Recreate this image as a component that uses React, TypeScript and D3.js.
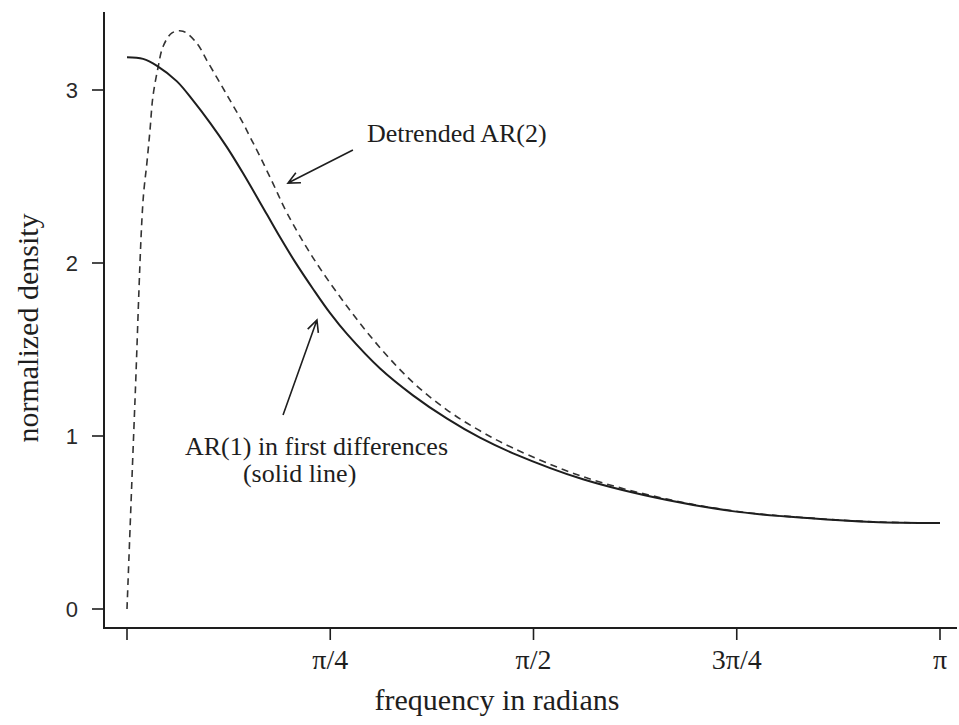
import React from "react";
import * as d3 from "d3";

// Frequencies in radians, normalized spectral densities.
const solidFreq = [0, 0.062, 0.116, 0.193, 0.255, 0.321, 0.386, 0.448, 0.541, 0.591, 0.65, 0.719, 0.785, 0.85, 0.978, 1.105, 1.237, 1.364, 1.492, 1.762, 2.087, 2.369, 2.628, 2.883, 3.1416];
const solidDensity = [3.19, 3.18, 3.14, 3.05, 2.94, 2.81, 2.67, 2.52, 2.28, 2.15, 2.005, 1.85, 1.71, 1.59, 1.39, 1.235, 1.1, 0.99, 0.9, 0.75, 0.63, 0.56, 0.526, 0.503, 0.497];

const dashedFreq = [0, 0.031, 0.062, 0.077, 0.089, 0.1, 0.12, 0.139, 0.174, 0.216, 0.27, 0.309, 0.348, 0.379, 0.41, 0.448, 0.475, 0.506, 0.564, 0.618, 0.719, 0.85, 0.978, 1.105, 1.237, 1.364, 1.492, 1.762, 2.087, 2.369, 2.628, 2.883, 3.1416];
const dashedDensity = [0, 1.21, 2.36, 2.58, 2.77, 2.96, 3.13, 3.25, 3.33, 3.34, 3.27, 3.17, 3.07, 2.99, 2.91, 2.81, 2.73, 2.64, 2.46, 2.29, 2.03, 1.75, 1.51, 1.31, 1.15, 1.03, 0.93, 0.765, 0.635, 0.562, 0.527, 0.504, 0.497];

const xTickValues = [0, Math.PI / 4, Math.PI / 2, (3 * Math.PI) / 4, Math.PI];
const xTickLabels = ["", "π/4", "π/2", "3π/4", "π"];
const yTickValues = [0, 1, 2, 3];

// Annotation labels and arrows, in data units (frequency, density).
const labels = [
  { text: "Detrended AR(2)", f: 0.927, d: 2.699 },
  { text: "AR(1) in first differences", f: 0.224, d: 0.89 },
  { text: "(solid line)", f: 0.448, d: 0.734 },
];
const arrows = [
  { f0: 0.873, d0: 2.653, f1: 0.622, d1: 2.462 },
  { f0: 0.603, d0: 1.121, f1: 0.734, d1: 1.671 },
];

export default function App() {
  const W = 959;
  const H = 725;
  const x = d3.scaleLinear().domain([0, Math.PI]).range([127, 940]);
  const y = d3.scaleLinear().domain([0, 3]).range([609, 90]);
  const axisX = 104;
  const axisY = 628;
  const axisTop = 12;
  const axisRight = 957;

  const line = d3
    .line<[number, number]>()
    .x((p) => x(p[0]))
    .y((p) => y(p[1]))
    .curve(d3.curveCatmullRom.alpha(0.5));

  const solidPath = line(solidFreq.map((f, i) => [f, solidDensity[i]]) as [number, number][]) || "";
  const dashedPath = line(dashedFreq.map((f, i) => [f, dashedDensity[i]]) as [number, number][]) || "";

  const serif = "'Liberation Serif', 'Times New Roman', serif";
  const sans = "'Liberation Sans', Arial, sans-serif";
  const ink = "#1e1e1e";

  const arrowHead = (a: { f0: number; d0: number; f1: number; d1: number }) => {
    const x0 = x(a.f0), y0 = y(a.d0), x1 = x(a.f1), y1 = y(a.d1);
    const ang = Math.atan2(y1 - y0, x1 - x0);
    const len = 13;
    const spread = Math.PI / 7;
    const p1 = [x1 - len * Math.cos(ang - spread), y1 - len * Math.sin(ang - spread)];
    const p2 = [x1 - len * Math.cos(ang + spread), y1 - len * Math.sin(ang + spread)];
    return `M${x0},${y0}L${x1},${y1}M${p1[0]},${p1[1]}L${x1},${y1}L${p2[0]},${p2[1]}`;
  };

  return (
    <svg
      width={W}
      height={H}
      style={{ position: "absolute", left: 0, top: 0, background: "#fff" }}
    >
      <rect x={0} y={0} width={W} height={H} fill="#fff" />
      {/* axes */}
      <line x1={axisX} y1={axisTop} x2={axisX} y2={axisY} stroke={ink} strokeWidth={2} />
      <line x1={axisX - 1} y1={axisY} x2={axisRight} y2={axisY} stroke={ink} strokeWidth={2} />
      {yTickValues.map((v) => (
        <g key={`y${v}`}>
          <line x1={axisX - 12} x2={axisX} y1={y(v)} y2={y(v)} stroke={ink} strokeWidth={1.6} />
          <text
            x={78}
            y={y(v)}
            dy="0.36em"
            textAnchor="end"
            fontFamily={sans}
            fontSize={22}
            fill="#2a2a2a"
          >
            {v}
          </text>
        </g>
      ))}
      {xTickValues.map((v, i) => (
        <g key={`x${i}`}>
          <line x1={x(v)} x2={x(v)} y1={axisY} y2={axisY + 12} stroke={ink} strokeWidth={1.6} />
          <text
            x={x(v)}
            y={669}
            textAnchor="middle"
            fontFamily={serif}
            fontSize={28}
            fill={ink}
          >
            {xTickLabels[i]}
          </text>
        </g>
      ))}
      <text x={497} y={710} textAnchor="middle" fontFamily={serif} fontSize={30} fill={ink}>
        frequency in radians
      </text>
      <text
        transform="translate(38,328) rotate(-90)"
        textAnchor="middle"
        fontFamily={serif}
        fontSize={30}
        fill={ink}
      >
        normalized density
      </text>

      {/* spectral densities */}
      <path d={dashedPath} fill="none" stroke="#333" strokeWidth={1.6} strokeDasharray="7,5" />
      <path d={solidPath} fill="none" stroke={ink} strokeWidth={2} />

      {/* annotations */}
      {arrows.map((a, i) => (
        <path key={`a${i}`} d={arrowHead(a)} fill="none" stroke={ink} strokeWidth={1.6} />
      ))}
      {labels.map((l, i) => (
        <text key={`l${i}`} x={x(l.f)} y={y(l.d)} fontFamily={serif} fontSize={26} fill={ink}>
          {l.text}
        </text>
      ))}
    </svg>
  );
}
